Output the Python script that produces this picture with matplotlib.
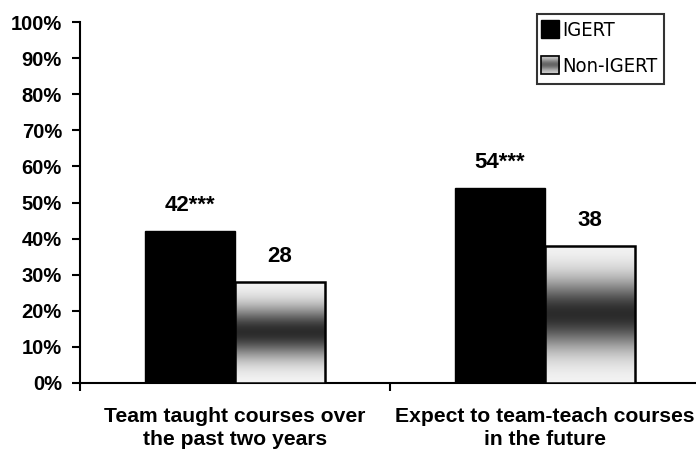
import numpy as np
import matplotlib
matplotlib.use("Agg")
import matplotlib.pyplot as plt
from matplotlib.patches import Rectangle
from matplotlib.legend_handler import HandlerBase
import matplotlib.image as mimage
import matplotlib.transforms as mtrans

categories = ["Team taught courses over\nthe past two years", "Expect to team-teach courses\nin the future"]
igert = [42, 54]
non_igert = [28, 38]
igert_labels = ["42***", "54***"]
non_labels = ["28", "38"]
yticks = [0, 10, 20, 30, 40, 50, 60, 70, 80, 90, 100]

plt.rcParams['font.family'] = ['Liberation Sans', 'DejaVu Sans']

fig = plt.figure(figsize=(6.96, 4.55), dpi=100)
ax = fig.add_axes([80/696, 1-383/455, 620/696, (383-22)/455])

w = 0.29
x = np.arange(len(categories))

# gradient: white -> dark -> white
g = np.linspace(0, 1, 256)
vals = 0.97 - 0.80 * np.exp(-((g - 0.5) / 0.25) ** 2)
grad = np.stack([vals] * 3, axis=-1)[:, None, :]
lvals = 0.85 - 0.45 * np.exp(-((g - 0.5) / 0.3) ** 2)
lgrad = np.stack([lvals] * 3, axis=-1)[:, None, :]

ax.bar(x - w/2, igert, w, color='black', edgecolor='black', linewidth=1, zorder=3)
bars2 = ax.bar(x + w/2, non_igert, w, color='none', edgecolor='black', linewidth=1.8, zorder=4)
for b in bars2:
    x0, y0 = b.get_x(), b.get_y()
    im = ax.imshow(grad, extent=[x0, x0 + b.get_width(), y0, y0 + b.get_height()],
                   aspect='auto', zorder=3, interpolation='bilinear')
    im.set_clip_path(b)

for i in range(len(categories)):
    ax.annotate(igert_labels[i], (x[i] - w/2, igert[i]), xytext=(0, 14.4), textcoords='offset points',
                ha='center', va='baseline', fontsize=16, fontweight='bold')
    ax.annotate(non_labels[i], (x[i] + w/2, non_igert[i]), xytext=(0, 14.4), textcoords='offset points',
                ha='center', va='baseline', fontsize=16, fontweight='bold')

ax.set_ylim(0, 100)
ax.set_xlim(-0.5, 1.5)
ax.set_yticks(yticks)
ax.set_yticklabels([f"{v}%" for v in yticks], fontsize=14.5, fontweight='bold')
ax.set_xticks([-0.5, 0.5, 1.5])
ax.set_xticklabels(["", "", ""])
ax.tick_params(axis='y', direction='out', length=6, width=1.5, pad=7)
ax.tick_params(axis='x', direction='out', length=6, width=1.5)
for s in ['top', 'right']:
    ax.spines[s].set_visible(False)
for s in ['left', 'bottom']:
    ax.spines[s].set_linewidth(1.5)

for i, c in enumerate(categories):
    ax.annotate(c, (x[i], 0), xytext=(0, -17.5), textcoords='offset points',
                ha='center', va='top', fontsize=15.2, fontweight='bold',
                linespacing=1.25, annotation_clip=False)


S = 13


class GradHandler(HandlerBase):
    def create_artists(self, legend, orig_handle, xdescent, ydescent, width, height, fontsize, trans):
        s = S
        x0 = -xdescent + (width - s)
        y0 = -ydescent + (height - s) / 2
        im = mimage.BboxImage(
            mtrans.TransformedBbox(mtrans.Bbox.from_bounds(x0, y0, s, s), trans),
            interpolation='bilinear')
        im.set_data(lgrad)
        r = Rectangle((x0, y0), s, s, facecolor='none', edgecolor='black', lw=1.2, transform=trans)
        return [im, r]


class SolidHandler(HandlerBase):
    def create_artists(self, legend, orig_handle, xdescent, ydescent, width, height, fontsize, trans):
        s = S
        x0 = -xdescent + (width - s)
        y0 = -ydescent + (height - s) / 2
        r = Rectangle((x0, y0), s, s, facecolor='black', edgecolor='black', lw=1, transform=trans)
        return [r]


h1 = Rectangle((0, 0), 1, 1)
h2 = Rectangle((0, 0), 1, 1)
leg = fig.legend([h1, h2], ["IGERT", "Non-IGERT"],
                 handler_map={h1: SolidHandler(), h2: GradHandler()},
                 loc='upper left', bbox_to_anchor=(537/696, 1-14/455),
                 frameon=True, fancybox=False, edgecolor='black',
                 handlelength=0.75, handletextpad=0.12, labelspacing=0.85,
                 borderpad=0.36, borderaxespad=0,
                 prop={'family': 'DejaVu Sans', 'stretch': 'condensed', 'size': 14.5})
leg.get_frame().set_linewidth(1.5)

fig.savefig("out.png", dpi=100)
